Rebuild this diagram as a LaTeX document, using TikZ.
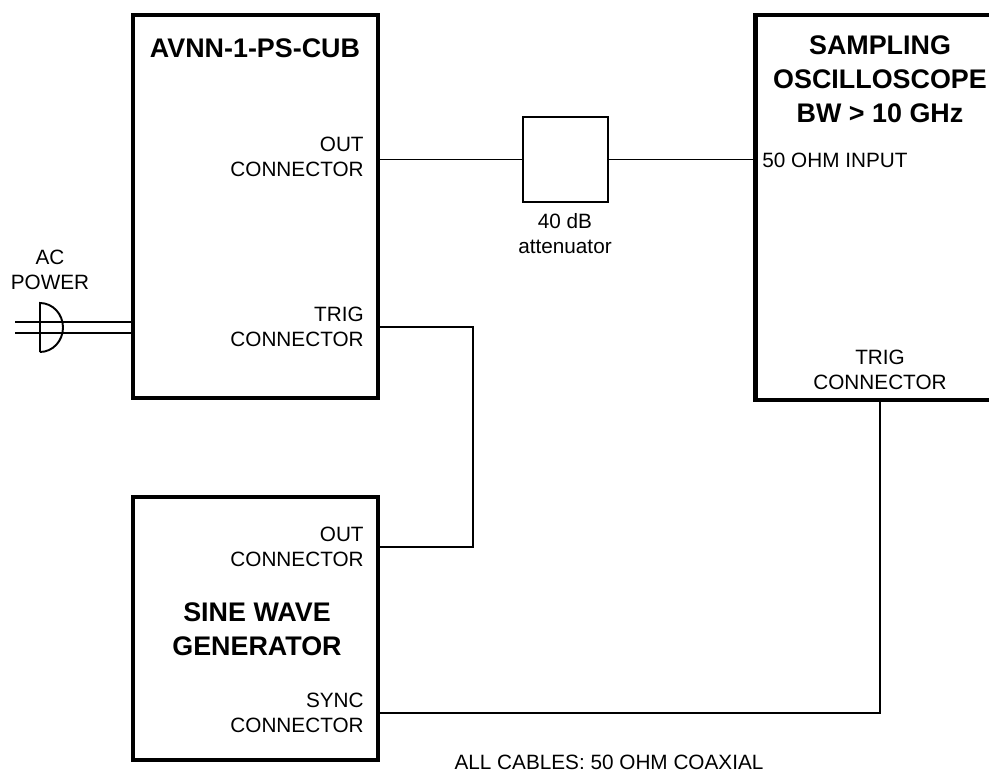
\documentclass[tikz,border=0pt]{standalone}
\usepackage{fontspec}
\setmainfont{Liberation Sans}
\begin{document}
\begin{tikzpicture}[x=0.02cm, y=-0.02cm,
    devbox/.style={draw, line width=2.8pt, inner sep=0pt},
    cable/.style={line width=1.1pt},
    lbl/.style={inner sep=0pt, align=right, font=\fontsize{11.8}{14.2}\selectfont},
    ttl/.style={inner sep=0pt, align=center, font=\fontsize{15.3}{19.4}\selectfont\bfseries}]
            \useasboundingbox (0,0) rectangle (989,773); \clip (0,0) rectangle (989,773);
            \node[devbox, minimum width=4.9cm, minimum height=7.66cm] (pulser) at (255.5,206.5) {};
            \node[devbox, minimum width=4.9cm, minimum height=5.26cm] (gen) at (255.5,628.5) {};
            \node[devbox, minimum width=5.1cm, minimum height=7.7cm] (scope) at (882.5,207.5) {};
            \node[draw, line width=1.1pt, minimum size=1.7cm, inner sep=0pt] (att) at (565.5,159.5) {};
            \node[ttl] (pulsername) at (255,48) {AVNN-1-PS-CUB};
            \node[ttl] (genname) at (257,629) {SINE WAVE\\GENERATOR};
            \node[ttl] (scopename) at (880,79) {SAMPLING\\OSCILLOSCOPE\\BW > 10 GHz};
            \node[lbl, anchor=east] (pout) at (364,157) {OUT\\CONNECTOR};
            \node[lbl, anchor=east] (ptrig) at (364,327) {TRIG\\CONNECTOR};
            \node[lbl, anchor=east] (gout) at (364,547) {OUT\\CONNECTOR};
            \node[lbl, anchor=east] (gsync) at (364,713) {SYNC\\CONNECTOR};
            \node[lbl, anchor=west] (sin) at (762,160) {50 OHM INPUT};
            \node[lbl, align=center] (strig) at (880,370) {TRIG\\CONNECTOR};
            \node[lbl, align=center] (attname) at (565,234) {40 dB\\attenuator};
            \node[lbl, align=center] (acname) at (50,270) {AC\\POWER};
            \node[lbl] (note) at (609,762) {ALL CABLES: 50 OHM COAXIAL};
            \coordinate (ac1) at (15,322); \coordinate (ac2) at (15,333);
            \foreach \c in {ac1,ac2} \draw[cable] (\c)--(\c -| pulser.west);
            \draw[cable] (40,352)--(40,303) arc[start angle=90, end angle=-90, x radius=0.46cm, y radius=0.49cm];
            \draw[cable] (pulser.east |- att.west)--(att.west);
            \draw[cable] (att.east)--(scope.west |- att.east);
            \draw[cable] (pulser.east |- ptrig)--++(93,0) |- (gen.east |- gout);
            \draw[cable] (gen.east |- gsync) -| (strig |- scope.south);
        \end{tikzpicture}
\end{document}
